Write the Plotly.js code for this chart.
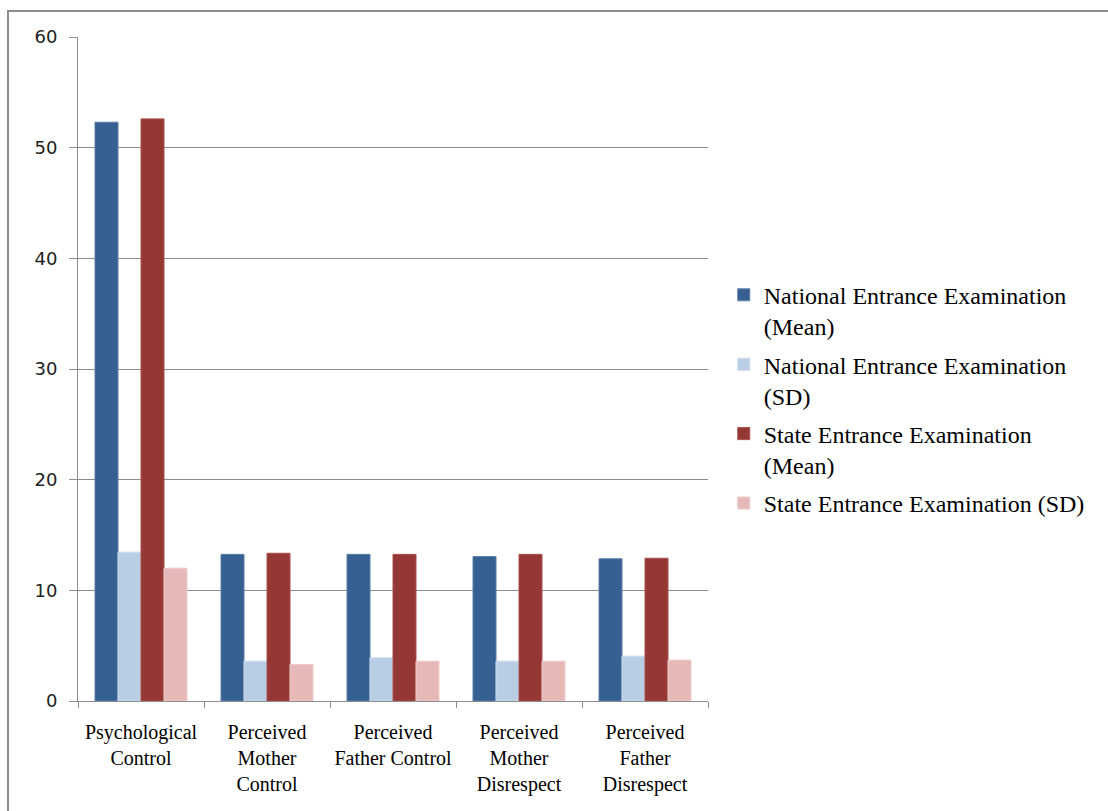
<!DOCTYPE html>
<html>
<head>
<meta charset="utf-8">
<script src="https://cdn.plot.ly/plotly-3.0.1.min.js"></script>
<style>
html,body{margin:0;padding:0;background:#fff;}
#chart{width:1108px;height:811px;}
</style>
</head>
<body>
<div id="chart"></div>
<script>
const categories = [
  "Psychological<br>Control",
  "Perceived<br>Mother<br>Control",
  "Perceived<br>Father Control",
  "Perceived<br>Mother<br>Disrespect",
  "Perceived<br>Father<br>Disrespect"
];
const seriesNames = [
  "National Entrance Examination<br>(Mean)",
  "National Entrance Examination<br>(SD)",
  "State Entrance Examination<br>(Mean)",
  "State Entrance Examination (SD)"
];
const nationalMean = [52.3, 13.25, 13.25, 13.05, 12.85];
const nationalSD   = [13.45, 3.6, 3.9, 3.6, 4.05];
const stateMean    = [52.6, 13.35, 13.25, 13.25, 12.9];
const stateSD      = [12.0, 3.3, 3.6, 3.6, 3.7];
const colors = ["#376092", "#B9CDE5", "#953735", "#E6B9B8"];
const edgeColors = ["#5A7DAA", "#CBDAEC", "#A9504E", "#EDCBCA"];
const yTicks = [0, 10, 20, 30, 40, 50, 60];

const seriesValues = [nationalMean, nationalSD, stateMean, stateSD];
const traces = seriesValues.map((vals, i) => ({
  type: "bar",
  name: seriesNames[i],
  legendgroup: "g" + i,
  x: categories,
  y: vals,
  marker: {color: colors[i], line: {color: edgeColors[i], width: 1}},
  hoverinfo: "y"
}));

const layout = {
  width: 1108,
  height: 811,
  margin: {l: 78, r: 400, t: 37, b: 110},
  paper_bgcolor: "#ffffff",
  plot_bgcolor: "#ffffff",
  barmode: "group",
  bargap: 0.27,
  bargroupgap: 0,
  showlegend: true,
  legend: {
    x: 1.025, xanchor: "left",
    y: 0.645, yanchor: "top",
    valign: "top",
    traceorder: "grouped",
    tracegroupgap: 4,
    font: {family: "Liberation Serif, Times New Roman, serif", size: 24, color: "#000"},
    itemwidth: 30
  },
  xaxis: {
    type: "category",
    showgrid: false,
    showline: true,
    linecolor: "#8c8c8c",
    linewidth: 1,
    ticks: "outside",
    tickson: "boundaries",
    ticklen: 6,
    tickcolor: "#8c8c8c",
    ticklabelstandoff: 13,
    tickfont: {family: "Liberation Serif, Times New Roman, serif", size: 20, color: "#000"},
    tickangle: 0,
    fixedrange: true
  },
  yaxis: {
    range: [0, 60],
    tickvals: yTicks,
    ticktext: yTicks.map(String),
    showgrid: true,
    gridcolor: "#8c8c8c",
    gridwidth: 1,
    zeroline: false,
    showline: true,
    linecolor: "#8c8c8c",
    linewidth: 1,
    ticks: "outside",
    ticklen: 8,
    tickcolor: "#8c8c8c",
    ticklabelstandoff: 8,
    tickfont: {family: "DejaVu Sans, sans-serif", size: 18, color: "#222"},
    fixedrange: true
  },
  shapes: [{
    type: "rect", xref: "paper", yref: "paper",
    x0: -70/630, x1: 1100/630,
    y0: -200/664, y1: 1 + 26/664,
    line: {color: "#8c8c8c", width: 2},
    fillcolor: "rgba(0,0,0,0)",
    layer: "below"
  }]
};

Plotly.newPlot("chart", traces, layout, {displayModeBar: false, staticPlot: true});
</script>
</body>
</html>
